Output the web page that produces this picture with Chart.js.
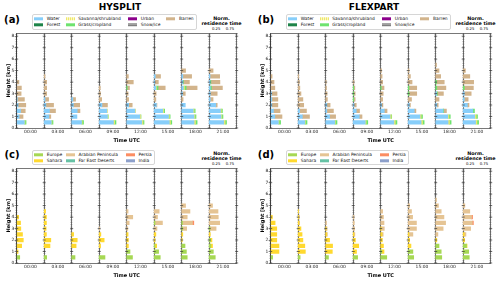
<!DOCTYPE html>
<html><head><meta charset="utf-8">
<script src="https://cdn.jsdelivr.net/npm/chart.js@4/dist/chart.umd.min.js"></script>
<style>
html,body{margin:0;padding:0;background:#fff;width:500px;height:281px;overflow:hidden;position:relative;font-family:"DejaVu Sans",sans-serif;}
canvas{position:absolute;}
.t{position:absolute;white-space:nowrap;color:#000;line-height:1;transform:translate(-50%,-50%);}
.b{font-weight:bold;}
.leg{position:absolute;border:0.6px solid #d6d6d6;border-radius:2px;background:rgba(255,255,255,0.85);box-sizing:border-box;}
.lt{position:absolute;white-space:nowrap;font-size:4.4px;line-height:1;transform:translateY(-50%);color:#111;}
.lp{position:absolute;width:9px;height:3.4px;transform:translateY(-50%);}
</style></head>
<body>
<div class="t b" style="left:120px;top:7px;font-size:9px;">HYSPLIT</div>
<div class="t b" style="left:374px;top:7px;font-size:9px;">FLEXPART</div>
<div class="t b" style="left:12px;top:19.5px;font-size:10px;">(a)</div>
<div class="t b" style="left:266px;top:19.5px;font-size:10px;">(b)</div>
<div class="t b" style="left:12px;top:154.5px;font-size:10px;">(c)</div>
<div class="t b" style="left:266px;top:154.5px;font-size:10px;">(d)</div>
<div id="norm"></div>
<div id="legends"></div>
<canvas id="ca" width="246" height="146" style="left:0px;top:0px;"></canvas>
<canvas id="cb" width="246" height="146" style="left:254px;top:0px;"></canvas>
<canvas id="cc" width="246" height="146" style="left:0px;top:135px;"></canvas>
<canvas id="cd" width="246" height="146" style="left:254px;top:135px;"></canvas>
<script>
// ---------- data ----------
const timeLabels = ['00:00','03:00','06:00','09:00','12:00','15:00','18:00','21:00'];
const heights = [0.5,1,1.5,2,2.5,3,3.5,4,4.5,5,5.5];
const yTicks = [0,1,2,3,4,5,6,7,8];
const sep = [0,1,2,3,4,5,6,7,8];

// HYSPLIT land cover (panel a)
const hysWater = [
 [0.28,0.09,0.14,0.05,0.02,0,0,0,0,0,0],
 [0.26,0.17,0.19,0.06,0.03,0,0,0,0,0,0],
 [0.36,0.19,0.20,0.06,0.04,0,0,0,0,0,0],
 [0.52,0.30,0.28,0.10,0,0,0,0,0,0,0],
 [0.55,0.48,0.30,0.07,0,0,0,0,0,0,0],
 [0.55,0.52,0.31,0.08,0,0,0.06,0.02,0.04,0,0],
 [0.45,0.45,0.42,0.13,0,0.03,0.06,0.04,0.04,0,0],
 [0.53,0.43,0.41,0.24,0.04,0.04,0.04,0.03,0.03,0,0]];
const hysSavanna = [
 [0.02,0,0,0,0,0,0,0,0,0,0],
 [0.02,0,0,0,0,0,0,0,0,0,0],
 [0.02,0,0,0,0,0,0,0,0,0,0],
 [0.04,0.02,0.02,0,0,0,0,0,0,0,0],
 [0.04,0.03,0.02,0,0,0,0,0,0,0,0],
 [0.04,0.03,0.03,0,0,0,0.02,0,0,0,0],
 [0.05,0.03,0.03,0,0,0,0.04,0,0,0,0],
 [0.05,0.03,0.03,0,0,0,0,0,0,0,0]];
const hysGrass = [
 [0.04,0,0,0,0,0,0,0,0,0,0],
 [0.04,0,0,0,0,0,0,0,0,0,0],
 [0.05,0,0,0,0,0,0,0,0,0,0],
 [0.05,0.01,0,0,0,0,0,0,0,0,0],
 [0.04,0.01,0,0,0,0,0.02,0,0,0,0],
 [0.05,0.03,0.04,0,0,0,0.06,0,0,0,0],
 [0.06,0.04,0.04,0,0,0,0.06,0.02,0,0,0],
 [0.05,0.04,0.04,0,0,0,0.04,0.03,0,0,0]];
const hysBarren = [
 [0,0.14,0.17,0.28,0.26,0.16,0.17,0.08,0,0,0],
 [0,0.07,0.22,0.28,0.13,0.09,0.09,0.09,0.03,0,0],
 [0,0,0.10,0.23,0.10,0,0,0,0,0,0],
 [0,0,0,0.20,0.09,0.05,0.04,0,0,0,0],
 [0,0,0,0.13,0.07,0.05,0.08,0.24,0.06,0,0],
 [0,0,0,0.02,0.06,0.07,0.26,0.13,0.19,0,0],
 [0,0,0,0,0.05,0.10,0.40,0.22,0.32,0.14,0],
 [0,0,0,0.05,0.10,0.25,0.40,0.33,0.35,0.14,0]];

// FLEXPART land cover (panel b)
const flxWater = [
 [0.28,0.15,0.10,0.04,0.04,0.03,0,0,0,0,0],
 [0.24,0.15,0.05,0,0,0,0,0,0,0,0],
 [0.33,0.14,0.04,0.04,0,0,0,0,0,0,0],
 [0.44,0.22,0.11,0.03,0,0,0,0,0,0,0],
 [0.48,0.34,0.13,0.03,0,0,0,0,0,0,0],
 [0.47,0.43,0.22,0.04,0,0,0,0,0,0,0],
 [0.45,0.44,0.27,0.04,0,0.03,0,0,0,0,0],
 [0.45,0.42,0.35,0.15,0.04,0.04,0,0,0,0,0]];
const flxSavanna = [
 [0.02,0,0,0,0,0,0,0,0,0,0],
 [0.02,0,0,0,0,0,0,0,0,0,0],
 [0.02,0,0,0,0,0,0,0,0,0,0],
 [0.03,0,0,0,0,0,0,0,0,0,0],
 [0.05,0.04,0,0,0,0,0,0,0,0,0],
 [0.05,0.04,0,0,0,0,0,0,0,0,0],
 [0.05,0.04,0,0,0,0,0,0,0,0,0],
 [0.05,0.05,0,0,0,0,0,0,0,0,0]];
const flxGrass = [
 [0.06,0,0,0,0,0,0,0,0,0,0],
 [0.06,0,0,0,0,0,0,0,0,0,0],
 [0.06,0,0,0,0,0,0,0,0,0,0],
 [0.06,0,0,0,0.02,0.02,0.02,0,0,0,0],
 [0.06,0.02,0,0,0,0,0.02,0,0,0,0],
 [0.06,0.05,0,0,0,0.03,0.03,0,0,0,0],
 [0.06,0.05,0.02,0,0,0.03,0.04,0.03,0,0,0],
 [0.06,0.05,0.06,0,0,0,0.04,0,0,0,0]];
const flxBarren = [
 [0,0.26,0.24,0.22,0.22,0.20,0.15,0.12,0.05,0,0],
 [0,0.26,0.25,0.20,0.17,0.10,0.06,0.04,0.02,0,0],
 [0,0.22,0.24,0.12,0.06,0.05,0.03,0.02,0,0,0],
 [0,0.10,0.12,0.08,0.05,0.05,0.04,0.03,0,0,0],
 [0,0,0.10,0.05,0.07,0.09,0.10,0.07,0.05,0.03,0],
 [0,0,0.06,0.04,0.12,0.28,0.28,0.14,0.08,0.03,0],
 [0,0,0.10,0.05,0.12,0.22,0.33,0.28,0.18,0.12,0.03],
 [0,0,0,0.06,0.14,0.25,0.33,0.38,0.24,0.08,0]];

// HYSPLIT source regions (panel c)
const hysEurope = [
 [0.11,0,0,0,0,0,0,0,0,0,0],
 [0.09,0,0,0,0,0,0,0,0,0,0],
 [0.12,0,0,0,0,0,0,0,0,0,0],
 [0.21,0,0,0,0,0,0,0,0,0,0],
 [0.21,0.12,0,0,0,0,0,0,0,0,0],
 [0.22,0.16,0.03,0,0,0,0.03,0,0,0,0],
 [0.20,0.17,0.12,0,0,0.03,0.03,0,0,0,0],
 [0.22,0.15,0.06,0.05,0,0.03,0,0,0,0,0]];
const hysSahara = [
 [0,0.05,0.18,0.24,0.21,0.15,0.14,0.07,0,0,0],
 [0,0,0.21,0.24,0.08,0.07,0.08,0.08,0.05,0,0],
 [0,0,0.16,0.20,0.07,0,0,0,0,0,0],
 [0,0,0.05,0.18,0.06,0,0,0,0,0,0],
 [0,0,0.06,0.06,0.05,0,0,0,0,0,0],
 [0,0,0.06,0.03,0.06,0,0,0,0,0,0],
 [0,0,0,0.02,0.04,0,0,0,0,0,0],
 [0,0,0.06,0.05,0.04,0,0,0,0,0,0]];
const hysArabia = [
 [0,0,0,0,0,0,0,0,0,0,0],
 [0,0,0,0,0,0,0,0,0,0,0],
 [0,0,0,0,0,0,0,0,0,0,0],
 [0,0,0,0,0,0.02,0,0,0,0,0],
 [0,0,0,0,0,0.04,0.09,0.22,0.05,0,0],
 [0,0,0,0,0,0.10,0.27,0.12,0.18,0,0],
 [0,0,0,0,0,0.15,0.36,0.20,0.30,0.14,0],
 [0,0,0,0,0,0.22,0.38,0.33,0.32,0.12,0]];
const hysPersia = [
 [0,0,0,0,0,0,0,0,0,0,0],
 [0,0,0,0,0,0,0,0,0,0,0],
 [0,0,0,0,0,0,0,0,0,0,0],
 [0,0,0,0,0,0,0,0,0,0,0],
 [0,0,0,0,0,0,0,0,0,0,0],
 [0,0,0,0,0,0,0,0,0,0,0],
 [0,0,0,0,0,0,0.05,0,0,0,0],
 [0,0,0,0,0,0,0,0,0,0,0]];

// FLEXPART source regions (panel d)
const flxEurope = [
 [0.07,0,0,0,0,0,0,0,0,0,0],
 [0.07,0,0,0,0,0,0,0,0,0,0],
 [0.10,0,0,0,0,0,0,0,0,0,0],
 [0.16,0,0,0,0,0,0,0,0,0,0],
 [0.22,0.04,0,0,0,0,0,0,0,0,0],
 [0.20,0.17,0,0,0,0,0,0,0,0,0],
 [0.22,0.20,0.12,0,0,0,0,0,0,0,0],
 [0.22,0.20,0.12,0,0,0,0,0,0,0,0]];
const flxSahara = [
 [0,0.30,0.30,0.22,0.22,0.22,0.16,0.06,0,0,0],
 [0,0.26,0.24,0.17,0.14,0.10,0.03,0.02,0.01,0,0],
 [0,0.24,0.25,0.14,0.04,0.02,0,0,0,0,0],
 [0,0.12,0.20,0.08,0.03,0,0,0,0,0,0],
 [0,0.08,0.10,0.06,0.05,0.02,0,0,0,0,0],
 [0,0,0.10,0.05,0.03,0,0,0,0,0,0],
 [0,0,0,0.04,0,0,0,0,0,0,0],
 [0,0,0.02,0.05,0.04,0,0,0,0,0,0]];
const flxArabia = [
 [0,0,0,0,0,0,0,0,0,0,0],
 [0,0,0,0,0,0,0.02,0.02,0.01,0,0],
 [0,0,0,0,0.02,0.03,0.03,0,0,0,0],
 [0,0,0,0,0.03,0.05,0.04,0.03,0,0,0],
 [0,0,0,0,0.04,0.11,0.12,0.10,0.07,0,0],
 [0,0,0,0,0.14,0.30,0.30,0.16,0.12,0.05,0],
 [0,0,0,0,0.08,0.27,0.36,0.30,0.20,0.10,0.03],
 [0,0,0,0,0.06,0.27,0.33,0.30,0.24,0.06,0]];
const flxPersia = [
 [0,0,0,0,0,0,0,0,0,0,0],
 [0,0,0,0,0,0,0,0,0,0,0],
 [0,0,0,0,0,0,0,0,0,0,0],
 [0,0,0,0,0,0,0,0,0,0,0],
 [0,0,0,0,0,0,0,0,0,0,0],
 [0,0,0,0,0,0,0,0,0,0,0],
 [0,0,0,0,0,0,0,0,0,0,0],
 [0,0,0,0,0,0,0.04,0.04,0,0,0]];

const landLabels = ['Water','Forest','Savanna/shrubland','Grass/cropland','Urban','Snow/ice','Barren'];
const landColors = ['#87cefa','#1e8449','#eee86a','#6ee36e','#8b008b','#7f7f7f','#d2b48c'];
const srcLabels = ['Europe','Sahara','Arabian Peninsula','Far East Deserts','Persia','India'];
const srcColors = ['#a6d854','#ffd92f','#e5c494','#66c2a5','#fc8d62','#8da0cb'];

// ---------- build ----------
Chart.defaults.font.family = 'DejaVu Sans';

function buildDatasets(series, colors) {
  const cum = timeLabels.map(() => heights.map(() => 0));
  const out = [];
  series.forEach((m, ci) => {
    if (!m) return;
    const data = [];
    m.forEach((row, t) => row.forEach((v, h) => {
      if (v > 0) {
        const s = t + cum[t][h];
        data.push({y: heights[h], x: [s, s + v]});
        cum[t][h] += v;
      }
    }));
    out.push({data, backgroundColor: colors[ci], borderWidth: 0, grouped: false, barThickness: 3.6});
  });
  return out;
}

const sepTicks = {
  id: 'sepTicks',
  afterDatasetsDraw(chart) {
    const {ctx, scales: {x, y}} = chart;
    ctx.save();
    ctx.strokeStyle = '#333'; ctx.lineWidth = 0.7;
    sep.forEach(s => {
      const px = x.getPixelForValue(s);
      yTicks.forEach(k => {
        const py = y.getPixelForValue(k);
        ctx.beginPath();
        ctx.moveTo(s === 0 ? px : px - 1.5, py); ctx.lineTo(px + 1.5, py); ctx.stroke();
      });
    });
    ctx.restore();
  }
};

function makePanel(id, datasets) {
  new Chart(document.getElementById(id), {
    type: 'bar',
    data: {datasets},
    plugins: [sepTicks],
    options: {
      responsive: false, animation: false, devicePixelRatio: 1, indexAxis: 'y',
      layout: {padding: {left: 0, right: 9.3, top: 33.3, bottom: 0}},
      plugins: {legend: {display: false}, tooltip: {enabled: false}},
      scales: {
        y: {type: 'linear', position: 'left', min: 0, max: 8.25, offset: false,
          afterBuildTicks(s) { s.ticks = yTicks.map(v => ({value: v})); },
          afterFit(s) { s.width = 16.7; },
          grid: {offset: false, drawOnChartArea: false, drawTicks: true, tickLength: 2, color: '#333', lineWidth: 0.7},
          border: {color: '#333', width: 0.8},
          ticks: {font: {size: 4.4}, color: '#222', padding: 0.5},
          title: {display: true, text: 'Height [km]', font: {size: 5, weight: 'bold'}, color: '#000', padding: {top: 5.4, bottom: 0}}},
        x: {type: 'linear', position: 'bottom', min: 0, max: 8,
          afterBuildTicks(s) { s.ticks = timeLabels.map((_, i) => ({value: i + 0.5})); },
          afterFit(s) { s.height = 18; },
          grid: {display: false, drawTicks: false},
          border: {dash: [1.2, 1.2], color: '#555', width: 0.8},
          ticks: {autoSkip: false, maxRotation: 0, font: {size: 4.4}, color: '#222', padding: 1.5,
            callback: v => timeLabels[Math.floor(v)]},
          title: {display: true, text: 'Time UTC', font: {size: 5, weight: 'bold'}, color: '#000', padding: {top: 0, bottom: 2}}},
        xg: {type: 'linear', axis: 'x', position: 'top', min: 0, max: 8,
          afterBuildTicks(s) { s.ticks = sep.map(v => ({value: v})); },
          afterFit(s) { s.height = 0; },
          grid: {color: 'rgba(165,165,165,0.5)', lineWidth: 2.6, drawTicks: false},
          border: {dash: [1.2, 1.2], color: '#555', width: 0.8},
          ticks: {display: false}},
        xs: {type: 'linear', axis: 'x', position: 'top', min: 0, max: 8,
          afterBuildTicks(s) { s.ticks = sep.map(v => ({value: v})); },
          afterFit(s) { s.height = 0; },
          grid: {color: '#333', lineWidth: 0.7, drawTicks: false},
          border: {display: false},
          ticks: {display: false}}
      }
    }
  });
}

makePanel('ca', buildDatasets([hysWater, null, hysSavanna, hysGrass, null, null, hysBarren], landColors));
makePanel('cb', buildDatasets([flxWater, null, flxSavanna, flxGrass, null, null, flxBarren], landColors));
makePanel('cc', buildDatasets([hysEurope, hysSahara, hysArabia, null, hysPersia, null], srcColors));
makePanel('cd', buildDatasets([flxEurope, flxSahara, flxArabia, null, flxPersia, null], srcColors));

// ---------- legends & annotations ----------
const legHost = document.getElementById('legends');
function legend(dx, dy, labels, colors, patchX, textX, boxW, boxH) {
  const box = document.createElement('div');
  box.className = 'leg';
  box.style.cssText = `left:${32 + dx}px;top:${dy}px;width:${boxW}px;height:${boxH}px;`;
  legHost.appendChild(box);
  labels.forEach((lab, i) => {
    const col = Math.floor(i / 2), row = i % 2;
    const yy = dy + (row === 0 ? 5 : 11);
    const p = document.createElement('div');
    p.className = 'lp';
    p.style.cssText = `left:${patchX[col] + dx}px;top:${yy}px;background:${colors[i]};`;
    if (lab === 'Savanna/shrubland') p.style.background = 'repeating-linear-gradient(90deg,#eee86a 0 1px,#fbf7c6 1px 2px)';
    if (lab === 'Snow/ice') p.style.background = 'repeating-linear-gradient(0deg,#7f7f7f 0 1px,#a0a0a0 1px 2px)';
    legHost.appendChild(p);
    const t = document.createElement('div');
    t.className = 'lt';
    t.style.cssText = `left:${textX[col] + dx}px;top:${yy}px;`;
    t.textContent = lab;
    legHost.appendChild(t);
  });
}
legend(0, 14, landLabels, landColors, [34, 65.7, 127.7, 165.7], [46.7, 78.3, 140.7, 179], 165, 16);
legend(254, 14, landLabels, landColors, [34, 65.7, 127.7, 165.7], [46.7, 78.3, 140.7, 179], 165, 16);
legend(0, 149.5, srcLabels, srcColors, [34, 66, 126], [46.7, 78.5, 138.5], 123, 15);
legend(254, 149.5, srcLabels, srcColors, [34, 66, 126], [46.7, 78.5, 138.5], 123, 15);

const normHost = document.getElementById('norm');
[[0, 0], [254, 0], [0, 135], [254, 135]].forEach(([dx, dy]) => {
  normHost.insertAdjacentHTML('beforeend',
    `<div class="t b" style="left:${221.5 + dx}px;top:${19 + dy}px;font-size:4.8px;">Norm.</div>` +
    `<div class="t b" style="left:${221.5 + dx}px;top:${24.4 + dy}px;font-size:4.8px;">residence time</div>` +
    `<div class="t" style="left:${216.2 + dx}px;top:${29.4 + dy}px;font-size:3.8px;">0.25</div>` +
    `<div class="t" style="left:${229.9 + dx}px;top:${29.4 + dy}px;font-size:3.8px;">0.75</div>`);
});
</script>
</body></html>
